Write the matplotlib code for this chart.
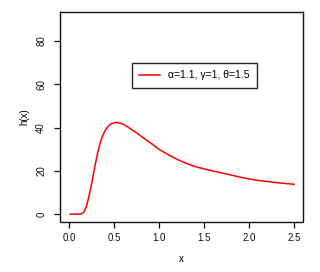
import matplotlib
matplotlib.use("Agg")
import matplotlib.pyplot as plt

# Values
x_vals = [0.01, 0.05, 0.10, 0.13, 0.15, 0.17, 0.19, 0.21, 0.23, 0.25, 0.27, 0.29, 0.31,
          0.33, 0.35, 0.37, 0.40, 0.43, 0.46, 0.50, 0.53, 0.56, 0.60, 0.65, 0.70, 0.75,
          0.80, 0.85, 0.90, 0.95, 1.00, 1.10, 1.20, 1.30, 1.40, 1.50, 1.60, 1.70, 1.80,
          1.90, 2.00, 2.10, 2.20, 2.30, 2.40, 2.50]
h_vals = [0.0, 0.0, 0.0, 0.1, 0.5, 1.6, 3.6, 6.8, 10.4, 14.4, 18.8, 23.2, 27.3,
          30.9, 33.8, 36.2, 38.8, 40.5, 41.6, 42.2, 42.3, 42.1, 41.5, 40.3, 38.9, 37.5,
          36.0, 34.5, 33.0, 31.5, 29.9, 27.5, 25.3, 23.5, 22.0, 20.9, 19.9, 19.0, 18.1,
          17.1, 16.3, 15.6, 15.1, 14.6, 14.2, 13.8]
x_ticks = [0.0, 0.5, 1.0, 1.5, 2.0, 2.5]
x_tick_labels = ["0.0", "0.5", "1.0", "1.5", "2.0", "2.5"]
y_ticks = [0, 20, 40, 60, 80]
y_tick_labels = ["0", "20", "40", "60", "80"]
legend_label = "\u03b1=1.1, \u03b3=1, \u03b8=1.5"

plt.rcParams['font.family'] = ['Liberation Sans', 'DejaVu Sans']

fig = plt.figure(figsize=(3.2, 2.72), dpi=100)
ax = fig.add_axes([59.5/320, 1-222/272, (302.7-59.5)/320, (222-11.5)/272])

line, = ax.plot(x_vals, h_vals, color='#ff0000', lw=1.1, label=legend_label)

ax.set_xlim(-0.109, 2.596)
ax.set_ylim(-3.6, 93.6)
ax.set_xticks(x_ticks)
ax.set_xticklabels(x_tick_labels)
ax.set_yticks(y_ticks)
ax.set_yticklabels(y_tick_labels, rotation=90, va='center')
ax.tick_params(axis='both', direction='out', length=4, width=0.9, labelsize=7,
               colors='#111111', top=False, right=False)
ax.tick_params(axis='x', pad=4.0)
ax.tick_params(axis='y', pad=5.5)
for s in ax.spines.values():
    s.set_linewidth(1.0)
    s.set_color('#111111')
    s.set_capstyle('butt')

ax.set_xlabel("x", fontsize=7, labelpad=7.5)
ax.set_ylabel("h(x)", fontsize=7, labelpad=5.0)

leg = ax.legend(handles=[line], loc='upper left',
                bbox_to_anchor=((131.7-59.5)/(302.7-59.5), (222-62.7)/(222-11.5)),
                fontsize=7.5, frameon=True, fancybox=False, edgecolor='#222222',
                handlelength=1.95, handletextpad=0.85, borderpad=0.72, borderaxespad=0,
                framealpha=1)
leg.get_frame().set_linewidth(1.0)

fig.savefig("out.png", dpi=100)
